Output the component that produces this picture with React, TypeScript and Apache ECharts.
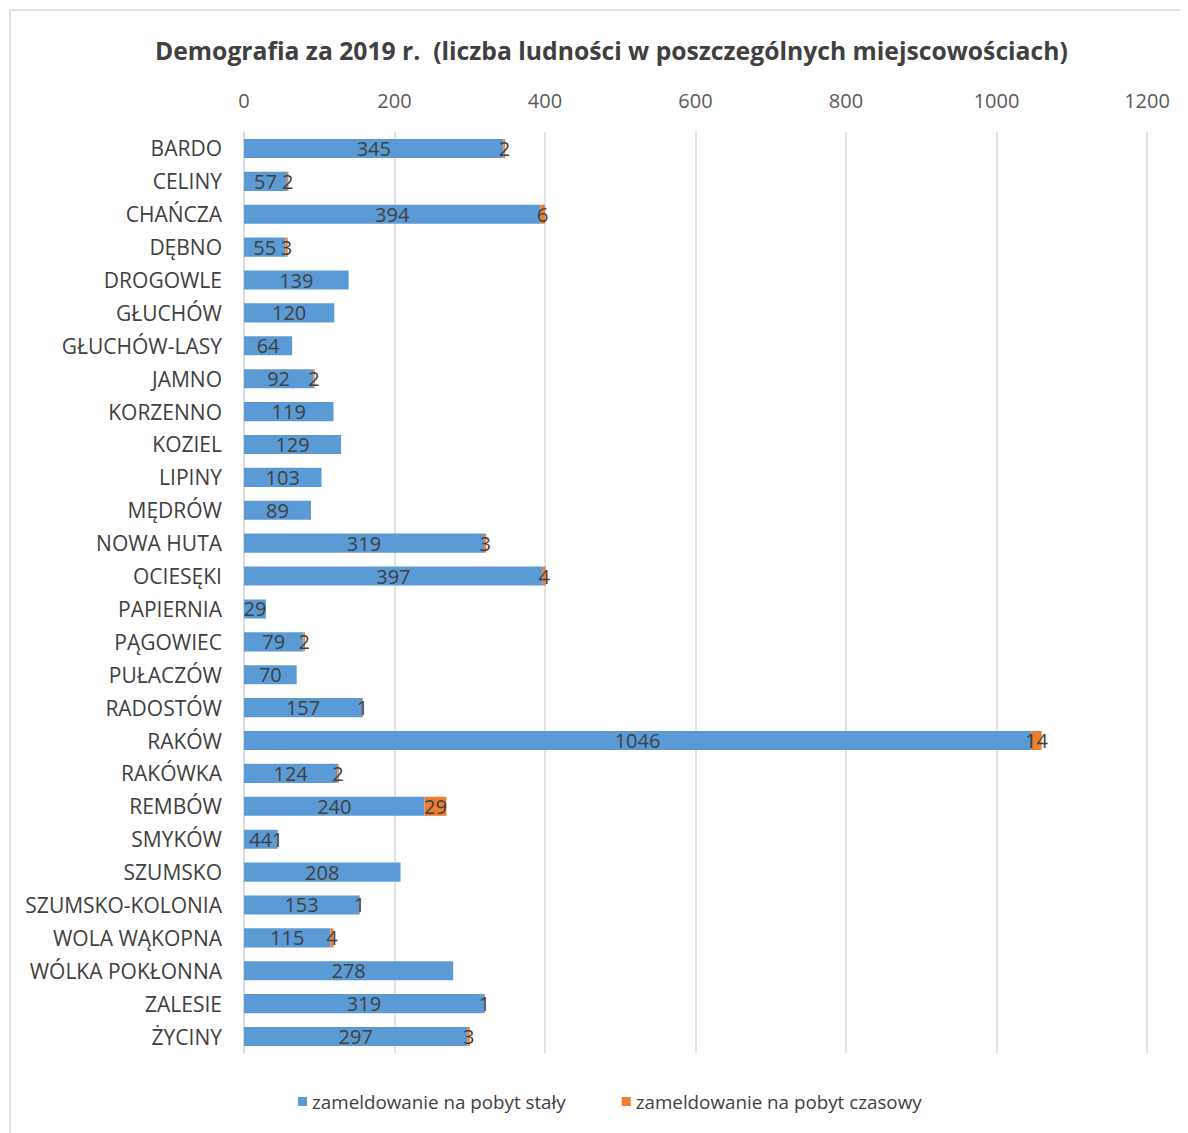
import React, { useEffect, useRef } from "react";
import * as echarts from "echarts";

const categories = [
  "BARDO", "CELINY", "CHAŃCZA", "DĘBNO", "DROGOWLE", "GŁUCHÓW", "GŁUCHÓW-LASY",
  "JAMNO", "KORZENNO", "KOZIEL", "LIPINY", "MĘDRÓW", "NOWA HUTA", "OCIESĘKI",
  "PAPIERNIA", "PĄGOWIEC", "PUŁACZÓW", "RADOSTÓW", "RAKÓW", "RAKÓWKA", "REMBÓW",
  "SMYKÓW", "SZUMSKO", "SZUMSKO-KOLONIA", "WOLA WĄKOPNA", "WÓLKA POKŁONNA",
  "ZALESIE", "ŻYCINY",
];

const permanent = [
  345, 57, 394, 55, 139, 120, 64, 92, 119, 129, 103, 89, 319, 397, 29, 79, 70,
  157, 1046, 124, 240, 44, 208, 153, 115, 278, 319, 297,
];

const temporary = [
  2, 2, 6, 3, 0, 0, 0, 2, 0, 0, 0, 0, 3, 4, 0, 2, 0, 1, 14, 2, 29, 1, 0, 1, 4,
  0, 1, 3,
];

const xTicks = { min: 0, max: 1200, interval: 200 };

const seriesNames = ["zameldowanie na pobyt stały", "zameldowanie na pobyt czasowy"];
const title = "Demografia za 2019 r.  (liczba ludności w poszczególnych miejscowościach)";

const FONT = "'Open Sans', 'Noto Sans', sans-serif";

export default function App() {
  const ref = useRef<HTMLDivElement>(null);
  useEffect(() => {
    if (!ref.current) return;
    const chart = echarts.init(ref.current, null, { renderer: "svg" });
    chart.setOption({
      animation: false,
      backgroundColor: "#ffffff",
      textStyle: { fontFamily: FONT },
      title: {
        text: title,
        left: 142,
        top: 25,
        textStyle: { fontSize: 24.7, fontWeight: "bold", color: "#404040", fontFamily: FONT },
      },
      graphic: [
        {
          type: "rect",
          shape: { x: 2, y: 2, width: 1200, height: 1140 },
          style: { fill: "none", stroke: "#d9d9d9", lineWidth: 1.5 },
          silent: true,
        },
      ],
      legend: {
        bottom: 17,
        left: 285,
        itemWidth: 9,
        itemHeight: 9,
        itemGap: 56,
        icon: "rect",
        textStyle: { fontSize: 18.8, color: "#404040", fontFamily: FONT },
        data: seriesNames,
      },
      grid: { left: 236, right: 41, top: 124, bottom: 80, containLabel: false },
      xAxis: {
        type: "value",
        position: "top",
        min: xTicks.min,
        max: xTicks.max,
        interval: xTicks.interval,
        axisLine: { show: false },
        axisTick: { show: false },
        axisLabel: {
          fontSize: 20,
          color: "#595959",
          margin: 22,
          fontFamily: FONT,
          formatter: (v: number) => String(v),
        },
        splitLine: { lineStyle: { color: "#d9d9d9", width: 1.5 } },
      },
      yAxis: {
        type: "category",
        inverse: true,
        data: categories,
        axisLine: { show: true, lineStyle: { color: "#d9d9d9", width: 1.5 } },
        axisTick: { show: false },
        axisLabel: { fontSize: 21, color: "#404040", margin: 22, fontFamily: FONT },
      },
      series: [
        {
          name: seriesNames[0],
          type: "bar",
          stack: "total",
          data: permanent,
          barCategoryGap: "42%",
          itemStyle: { color: "#5B9BD5" },
          label: {
            show: true,
            position: "inside",
            color: "#404040",
            fontSize: 20,
            fontFamily: FONT,
          },
        },
        {
          name: seriesNames[1],
          type: "bar",
          stack: "total",
          data: temporary,
          itemStyle: { color: "#ED7D31" },
          label: {
            show: true,
            position: "inside",
            color: "#404040",
            fontSize: 20,
            fontFamily: FONT,
            formatter: (p: any) => (p.value > 0 ? String(p.value) : ""),
          },
        },
      ],
    });
    return () => chart.dispose();
  }, []);
  return <div ref={ref} style={{ width: 1180, height: 1125 }} />;
}
